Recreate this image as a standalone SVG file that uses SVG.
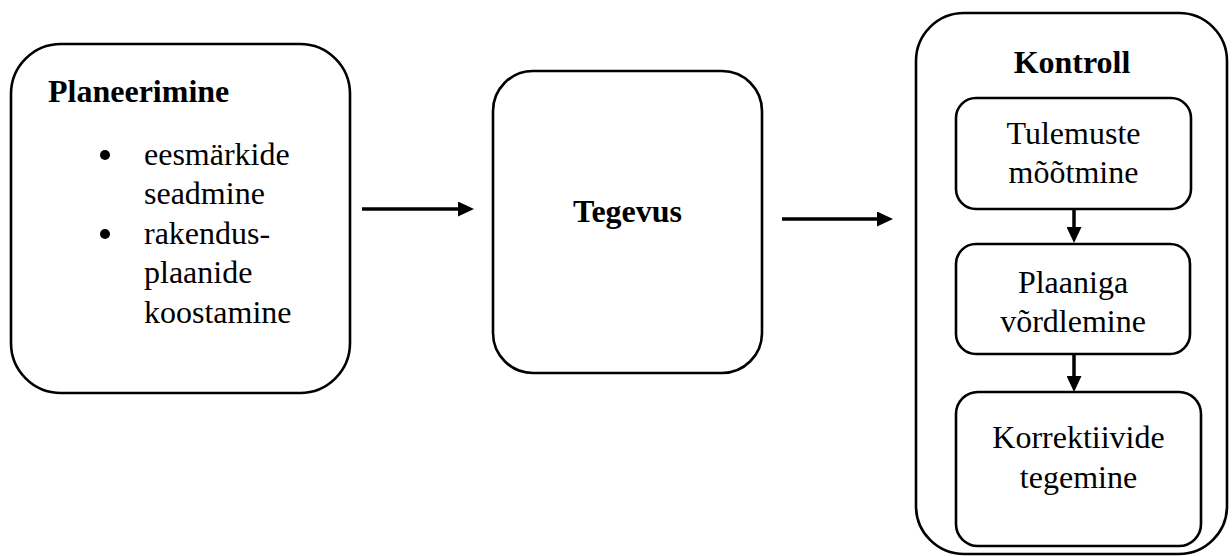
<svg xmlns="http://www.w3.org/2000/svg" width="1232" height="556" viewBox="0 0 1232 556">
<style>
.box{fill:#fff;stroke:#000;stroke-width:2.6}
.t{font-family:'Liberation Serif','Times New Roman',Tinos,'DejaVu Serif',serif;font-size:32px;fill:#000}
.b{font-weight:bold}
.m{text-anchor:middle}
.c{stroke:#000;stroke-width:3.5;fill:none;marker-end:url(#ah)}
</style>
<defs>
<marker id="ah" markerUnits="userSpaceOnUse" viewBox="0 0 16 15" refX="6" refY="7.5" markerWidth="16" markerHeight="15" orient="auto">
<path d="M0,0 L16,7.5 L0,15 z" fill="#000"/>
</marker>
</defs>
<rect width="1232" height="556" fill="#fff"/>
<g id="planeerimine">
<rect class="box" x="11" y="44" width="339" height="349" rx="50" ry="50"/>
<text class="t b" x="48" y="102">Planeerimine</text>
<circle cx="105" cy="155" r="5"/>
<circle cx="105" cy="234" r="5"/>
<text class="t" x="144" y="165">eesmärkide</text>
<text class="t" x="144" y="204">seadmine</text>
<text class="t" x="144" y="244">rakendus-</text>
<text class="t" x="144" y="283">plaanide</text>
<text class="t" x="144" y="323">koostamine</text>
</g>
<g id="tegevus">
<rect class="box" x="493" y="71" width="269" height="302" rx="40" ry="40"/>
<text class="t b m" x="627.5" y="222">Tegevus</text>
</g>
<g id="kontroll">
<rect class="box" x="916" y="13" width="311" height="541" rx="48" ry="48"/>
<text class="t b m" x="1072" y="73">Kontroll</text>
</g>
<g id="tulemuste">
<rect class="box" x="956" y="98" width="235" height="111" rx="20" ry="20"/>
<text class="t m" x="1073.5" y="144">Tulemuste</text>
<text class="t m" x="1073.5" y="183">mõõtmine</text>
</g>
<g id="plaaniga">
<rect class="box" x="956" y="244" width="234" height="110" rx="20" ry="20"/>
<text class="t m" x="1073" y="293">Plaaniga</text>
<text class="t m" x="1073" y="332">võrdlemine</text>
</g>
<g id="korrektiivide">
<rect class="box" x="956" y="392" width="245" height="154" rx="22" ry="22"/>
<text class="t m" x="1078.5" y="448">Korrektiivide</text>
<text class="t m" x="1078.5" y="488">tegemine</text>
</g>
<g id="connectors">
<line class="c" x1="362" y1="209" x2="464" y2="209"/>
<line class="c" x1="782" y1="219" x2="883" y2="219"/>
<line class="c" x1="1074" y1="209" x2="1074" y2="233"/>
<line class="c" x1="1074" y1="354" x2="1074" y2="382"/>
</g>
</svg>
